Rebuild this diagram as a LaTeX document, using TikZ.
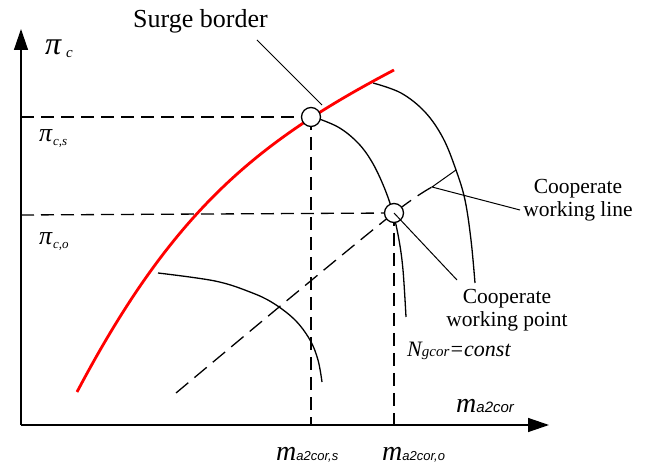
\documentclass[tikz,border=0pt]{standalone}
\usepackage{fontspec}
\setmainfont{Liberation Serif}
\newfontfamily\sansit{Liberation Sans}[ItalicFont=* Italic]
\usetikzlibrary{arrows.meta}
\newcommand\fsz[1]{\fontsize{#1}{#1}\selectfont}
\begin{document}
\begin{tikzpicture}[x=1pt,y=-1pt,
  axis/.style={line width=1.4pt,-{Triangle[length=21pt,width=14pt]}},
  curve/.style={line width=1.3pt},
  redc/.style={line width=2.8pt,red},
  guide/.style={line width=1.3pt,dash pattern=on 13pt off 7pt},
  wline/.style={line width=1.3pt,dash pattern=on 16pt off 8pt},
  leader/.style={line width=1pt},
  pt/.style={circle,draw,fill=white,line width=1.3pt,minimum size=19pt,inner sep=0pt},
  lbl/.style={inner sep=0pt,font=\fsz{21.5}},
]
\useasboundingbox (0,0) rectangle (646,465);
% axes
\coordinate (O) at (21,425);
\coordinate (Ytip) at (21,29);
\coordinate (Xtip) at (549,425);
\draw[axis] (O) -- (Ytip);
\draw[axis] (O) -- (Xtip);
% points
\coordinate (S) at (311,117);
\coordinate (W) at (394,213);
% guide lines
\coordinate (Sy) at (21,117);
\coordinate (Sx) at (311,425);
\coordinate (Wy) at (21,215);
\coordinate (Wx) at (394,425);
\draw[guide] (Sy) -- (S);
\draw[guide] (S) -- (Sx);
\draw[guide] (Wy) -- (W);
\draw[guide] (W) -- (Wx);
% working line
\draw[wline] plot[smooth,tension=0.6] coordinates {(176,393) (290,298) (394,213) (432,187)};
% speed lines
\draw[curve] plot[smooth,tension=0.6] coordinates {(373,83) (401,93) (425,112) (443,138) (456,170) (465,200) (471,240) (475,283)};
\draw[curve] plot[smooth,tension=0.6] coordinates {(311,116) (338,127) (358,143) (372,162) (384,187) (393,213) (399,240) (403,270) (406,317)};
\draw[curve] plot[smooth,tension=0.6] coordinates {(158,273) (215,281) (250,292) (273,303) (295,320) (310,340) (318,360) (322,382)};
% surge line
\coordinate (r0) at (77,392);
\coordinate (r2) at (394,70);
\draw[redc] (r0) .. controls (172,212) and (255,143) .. (r2);
% circles
\node[pt] (ps) at (S) {};
\node[pt] (pw) at (W) {};
% leaders
\coordinate (sa) at (257,40);
\coordinate (sb) at (322,105);
\draw[leader] (sa) -- (sb);
\coordinate (la) at (520,210);
\coordinate (lb) at (432,187);
\coordinate (lc) at (456,170);
\draw[leader] (la) -- (lb) -- (lc);
\coordinate (pa) at (457,280);
\draw[leader] (pa) -- (pw.center);
% texts
\node[inner sep=0pt,anchor=base west,font=\fsz{26}] (surge) at (133,28) {Surge border};
\node[lbl,align=center] (cwl) at (578,200) {Cooperate\\[2pt]working line};
\node[lbl,align=center] (cwp) at (507,310) {Cooperate\\[2pt]working point};
\node[inner sep=0pt,anchor=base west] (nlab) at (407,357) {\fsz{22}\itshape N\fsz{15}gcor\fsz{22}=const};
\node[inner sep=0pt,anchor=base west] (pic) at (45,55) {\fsz{32}\itshape π\hspace{5pt}\raisebox{-3pt}{\fsz{15}c}};
\node[inner sep=0pt,anchor=base west] (pics) at (39,142) {\fsz{26}\itshape π\hspace{1pt}\raisebox{-4pt}{\fsz{13}c,s}};
\node[inner sep=0pt,anchor=base west] (pico) at (39,245) {\fsz{26}\itshape π\hspace{1pt}\raisebox{-4pt}{\fsz{13}c,o}};
\node[inner sep=0pt,anchor=base west] (mx) at (456,413) {\fsz{28}\itshape m\sansit\fsz{15}a2cor};
\node[inner sep=0pt,anchor=base west] (ms) at (276,460) {\fsz{28}\itshape m\sansit\fsz{13}a2cor,s};
\node[inner sep=0pt,anchor=base west] (mo) at (382,460) {\fsz{28}\itshape m\sansit\fsz{13}a2cor,o};
\end{tikzpicture}
\end{document}
